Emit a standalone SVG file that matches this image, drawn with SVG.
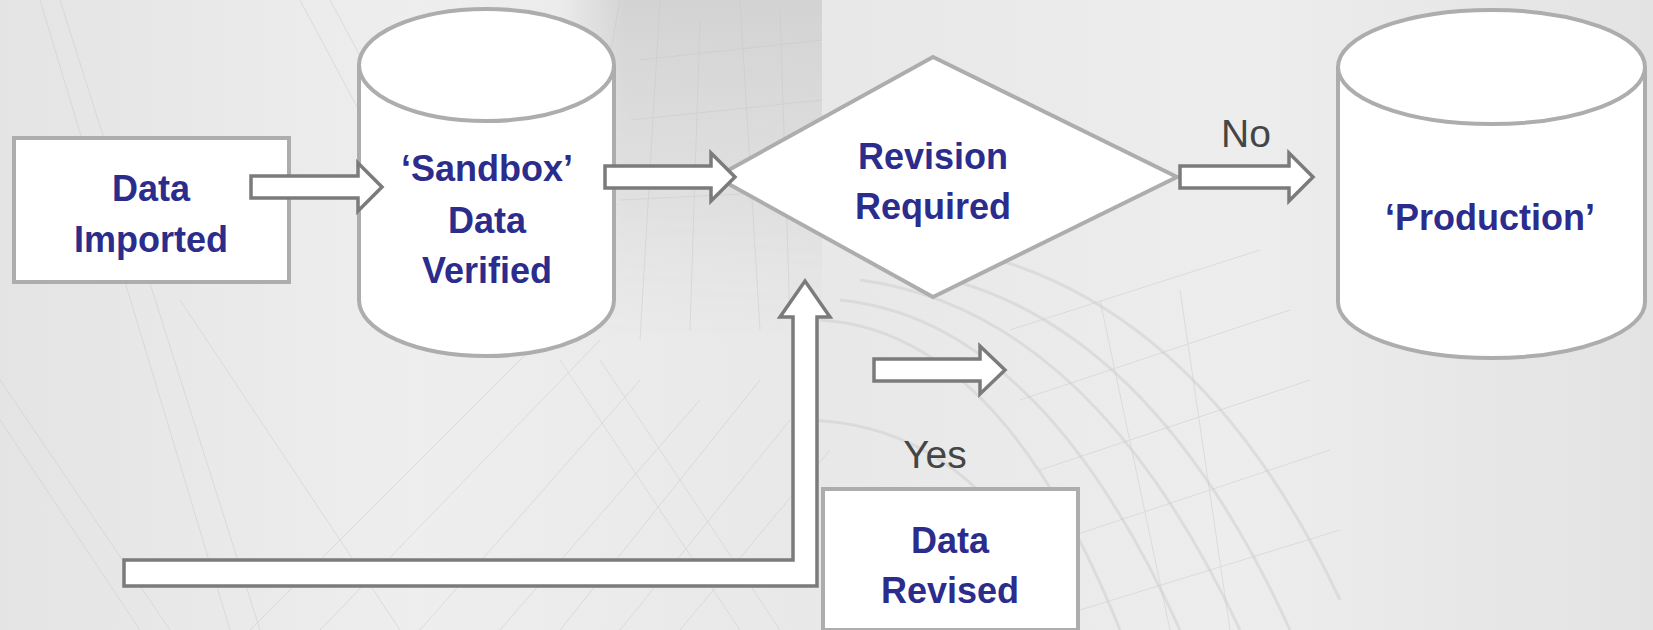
<svg xmlns="http://www.w3.org/2000/svg" width="1653" height="630" viewBox="0 0 1653 630">
<defs>
<linearGradient id="bg" x1="0" y1="0" x2="1" y2="0">
<stop offset="0" stop-color="#E4E4E4"/>
<stop offset="0.25" stop-color="#EEEEEE"/>
<stop offset="0.5" stop-color="#E8E8E8"/>
<stop offset="0.75" stop-color="#EDEDED"/>
<stop offset="1" stop-color="#E3E3E3"/>
</linearGradient>
<linearGradient id="band" x1="0" y1="0" x2="0" y2="1">
<stop offset="0" stop-color="#CDCDCD" stop-opacity="0.8"/>
<stop offset="0.6" stop-color="#D6D6D6" stop-opacity="0.5"/>
<stop offset="1" stop-color="#DDDDDD" stop-opacity="0"/>
</linearGradient>
<linearGradient id="bandfade" x1="0" y1="0" x2="1" y2="0">
<stop offset="0" stop-color="#000000"/>
<stop offset="0.25" stop-color="#FFFFFF"/>
<stop offset="1" stop-color="#FFFFFF"/>
</linearGradient>
<mask id="bandmask">
<rect x="560" y="0" width="262" height="340" fill="url(#bandfade)"/>
</mask>
<style>
.shape{fill:#FFFFFF;stroke:#ADADAD;stroke-width:4;stroke-linejoin:miter}
.arrow{fill:#FFFFFF;stroke:#7B7B7B;stroke-width:3.5;stroke-linejoin:miter}
.lbl{font-family:"Liberation Sans",Arial,sans-serif;font-weight:bold;font-size:36px;fill:#2B2C8C;text-anchor:middle}
.edge{font-family:"Liberation Sans",Arial,sans-serif;font-size:39px;fill:#454545;text-anchor:middle}
.bgl{fill:none;stroke:#C6C6C6;stroke-width:1;opacity:0.45}
.bga{fill:none;stroke:#D0D0D0;stroke-width:3;opacity:0.55}
</style>
</defs>
<g id="background">
<rect x="0" y="0" width="1653" height="630" fill="url(#bg)"/>
<rect x="560" y="0" width="262" height="340" fill="url(#band)" mask="url(#bandmask)"/>
<g class="bgl">
<path d="M40 0 L230 630"/><path d="M60 0 L260 630"/><path d="M300 0 L460 300"/>
<path d="M330 0 L470 260"/><path d="M0 420 L140 630"/><path d="M0 380 L170 630"/>
<path d="M620 0 L560 330"/><path d="M660 0 L640 340"/><path d="M700 20 L690 330"/>
<path d="M740 0 L760 330"/><path d="M780 10 L790 320"/><path d="M640 60 L822 40"/>
<path d="M630 120 L822 100"/><path d="M620 200 L822 190"/>
<path d="M250 630 L560 320"/><path d="M320 630 L600 340"/><path d="M420 630 L640 380"/>
<path d="M500 630 L700 400"/><path d="M560 630 L760 380"/><path d="M620 630 L790 420"/>
<path d="M680 630 L830 450"/><path d="M180 300 L400 630"/><path d="M560 360 L740 630"/>
<path d="M600 360 L780 630"/>
</g>
<g class="bga">
<path d="M820 320 Q1000 330 1120 630"/>
<path d="M840 300 Q1040 320 1180 630"/>
<path d="M860 280 Q1090 310 1240 630"/>
<path d="M900 270 Q1140 300 1290 630"/>
<path d="M960 250 Q1200 300 1340 600"/>
<path d="M800 420 Q980 420 1070 630"/>
</g>
<g class="bgl">
<path d="M1010 330 L1260 250"/><path d="M1020 400 L1290 310"/><path d="M1040 470 L1310 380"/>
<path d="M1060 540 L1330 450"/><path d="M1080 610 L1340 530"/><path d="M1100 300 L1170 630"/>
<path d="M1180 290 L1230 630"/>
</g>
</g>
<g id="node-data-imported">
<rect class="shape" x="14" y="138" width="275" height="144"/>
<text class="lbl" x="151" y="201">Data</text>
<text class="lbl" x="151" y="252">Imported</text>
</g>
<g id="node-sandbox">
<path class="shape" d="M359,65 V300 A127.5,56 0 0 0 614,300 V65"/>
<ellipse class="shape" cx="486.5" cy="65" rx="127.5" ry="56"/>
<text class="lbl" x="487" y="181">‘Sandbox’</text>
<text class="lbl" x="487" y="233">Data</text>
<text class="lbl" x="487" y="283">Verified</text>
</g>
<g id="node-revision">
<polygon class="shape" points="716,177 933,57 1177,177 933,297"/>
<text class="lbl" x="933" y="169">Revision</text>
<text class="lbl" x="933" y="219">Required</text>
</g>
<g id="node-production">
<path class="shape" d="M1338,67 V302 A153.5,56 0 0 0 1645,302 V67"/>
<ellipse class="shape" cx="1491.5" cy="67" rx="153.5" ry="57"/>
<text class="lbl" x="1490" y="230">‘Production’</text>
</g>
<g id="node-data-revised">
<rect class="shape" x="823" y="489" width="255" height="141"/>
<text class="lbl" x="950" y="553">Data</text>
<text class="lbl" x="950" y="603">Revised</text>
</g>
<g id="connectors">
<path id="arrow-imported-sandbox" class="arrow" d="M251,176 H358 V163 L382,187 L358,211 V198 H251 Z"/>
<path id="arrow-sandbox-revision" class="arrow" d="M605,166 H711 V153 L735,177 L711,201 V188 H605 Z"/>
<path id="arrow-revision-production" class="arrow" d="M1180,166 H1289 V153 L1313,177 L1289,201 V188 H1180 Z"/>
<path id="arrow-bent-revised" class="arrow" d="M124,560 H793 V317 H780 L805,281 L830,317 H817 V586 H124 Z"/>
<path id="arrow-small" class="arrow" d="M874,359 H980 V346 L1005,370 L980,394 V381 H874 Z"/>
<text class="edge" x="1246" y="147">No</text>
<text class="edge" x="935" y="468">Yes</text>
</g>
</svg>
